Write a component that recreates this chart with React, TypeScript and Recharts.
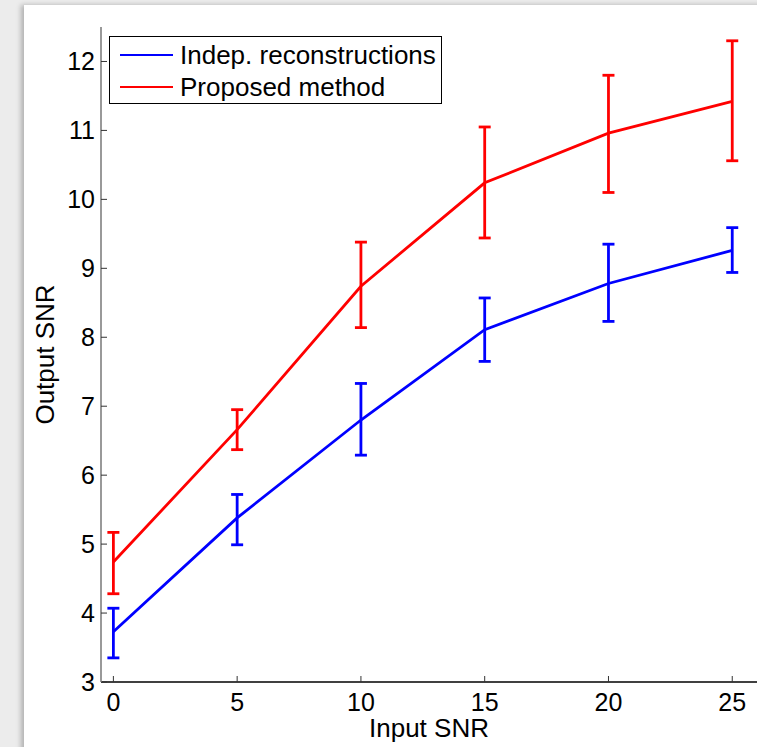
import React from 'react';
import { ComposedChart, Line, XAxis, YAxis, ErrorBar, Legend } from 'recharts';

const inputSnr = [0, 5, 10, 15, 20, 25];
const indepMean = [3.73, 5.38, 6.8, 8.11, 8.78, 9.26];
const indepLow = [3.35, 4.99, 6.29, 7.65, 8.23, 8.94];
const indepHigh = [4.07, 5.72, 7.33, 8.57, 9.35, 9.59];
const propMean = [4.74, 6.66, 8.74, 10.24, 10.96, 11.42];
const propLow = [4.28, 6.37, 8.14, 9.44, 10.1, 10.56];
const propHigh = [5.17, 6.95, 9.38, 11.05, 11.8, 12.3];
const xTicks = [0, 5, 10, 15, 20, 25];
const yTicks = [3, 4, 5, 6, 7, 8, 9, 10, 11, 12];
const seriesNames = ['Indep. reconstructions', 'Proposed method'];

const data = inputSnr.map((x, i) => ({
  x,
  indep: indepMean[i],
  indepErr: [indepMean[i] - indepLow[i], indepHigh[i] - indepMean[i]],
  prop: propMean[i],
  propErr: [propMean[i] - propLow[i], propHigh[i] - propMean[i]],
}));

const FONT = '"Liberation Sans", Arial, Helvetica, sans-serif';

const LegendBox = (props: any) => {
  const { payload } = props;
  return (
    <div
      style={{
        border: '1.5px solid #000',
        background: '#fff',
        width: 333,
        height: 68,
        boxSizing: 'border-box',
        paddingTop: 2,
        fontFamily: FONT,
        fontSize: 26,
        color: '#000',
      }}
    >
      {(payload || []).map((p: any, i: number) => (
        <div key={i} style={{ display: 'flex', alignItems: 'center', height: 32, lineHeight: '32px' }}>
          <div style={{ width: 53, height: 2.8, background: p.color, marginLeft: 10, marginRight: 7 }} />
          <span style={{ whiteSpace: 'nowrap' }}>{p.value}</span>
        </div>
      ))}
    </div>
  );
};

export default function App() {
  return (
    <div style={{ position: 'absolute', left: 0, top: 0, width: 757, height: 747, background: '#ececec', overflow: 'hidden' }}>
      <div
        style={{
          position: 'absolute',
          left: 24,
          top: 5,
          width: 760,
          height: 760,
          background: '#fff',
          boxShadow: '-3px 0 5px rgba(0,0,0,0.25)',
        }}
      />
      <div style={{ position: 'absolute', left: 0, top: 0 }}>
        <ComposedChart width={757} height={747} data={data} margin={{ top: 27, right: 0, bottom: 0, left: 0 }}>
          <XAxis
            dataKey="x"
            type="number"
            domain={[-0.5, 26]}
            ticks={xTicks}
            allowDataOverflow
            height={65}
            axisLine={{ stroke: '#000', strokeWidth: 1.5 }}
            tickLine={{ stroke: '#333', strokeWidth: 1 }}
            tickSize={-6}
            tickMargin={17}
            tick={{ fill: '#000', fontSize: 25, fontFamily: FONT }}
            label={{ value: 'Input SNR', position: 'center', dy: 13, fill: '#000', fontSize: 26, fontFamily: FONT }}
          />
          <YAxis
            type="number"
            domain={[3, 12.5]}
            ticks={yTicks}
            allowDataOverflow
            width={101}
            axisLine={{ stroke: '#999', strokeWidth: 2 }}
            tickLine={{ stroke: '#333', strokeWidth: 1 }}
            tickSize={-6}
            tickMargin={12}
            tick={{ fill: '#000', fontSize: 25, fontFamily: FONT }}
            label={{ value: 'Output SNR', angle: -90, position: 'center', dx: -6, fill: '#000', fontSize: 26, fontFamily: FONT }}
          />
          <Legend
            layout="vertical"
            align="center"
            verticalAlign="middle"
            wrapperStyle={{ left: 109, top: 36, width: 333, height: 68 }}
            content={<LegendBox />}
          />
          <Line
            dataKey="indep"
            name={seriesNames[0]}
            stroke="#0000ff"
            strokeWidth={2.8}
            dot={false}
            isAnimationActive={false}
          >
            <ErrorBar dataKey="indepErr" direction="y" width={6} stroke="#0000ff" strokeWidth={2.8} />
          </Line>
          <Line
            dataKey="prop"
            name={seriesNames[1]}
            stroke="#ff0000"
            strokeWidth={2.8}
            dot={false}
            isAnimationActive={false}
          >
            <ErrorBar dataKey="propErr" direction="y" width={6} stroke="#ff0000" strokeWidth={2.8} />
          </Line>
        </ComposedChart>
      </div>
    </div>
  );
}
